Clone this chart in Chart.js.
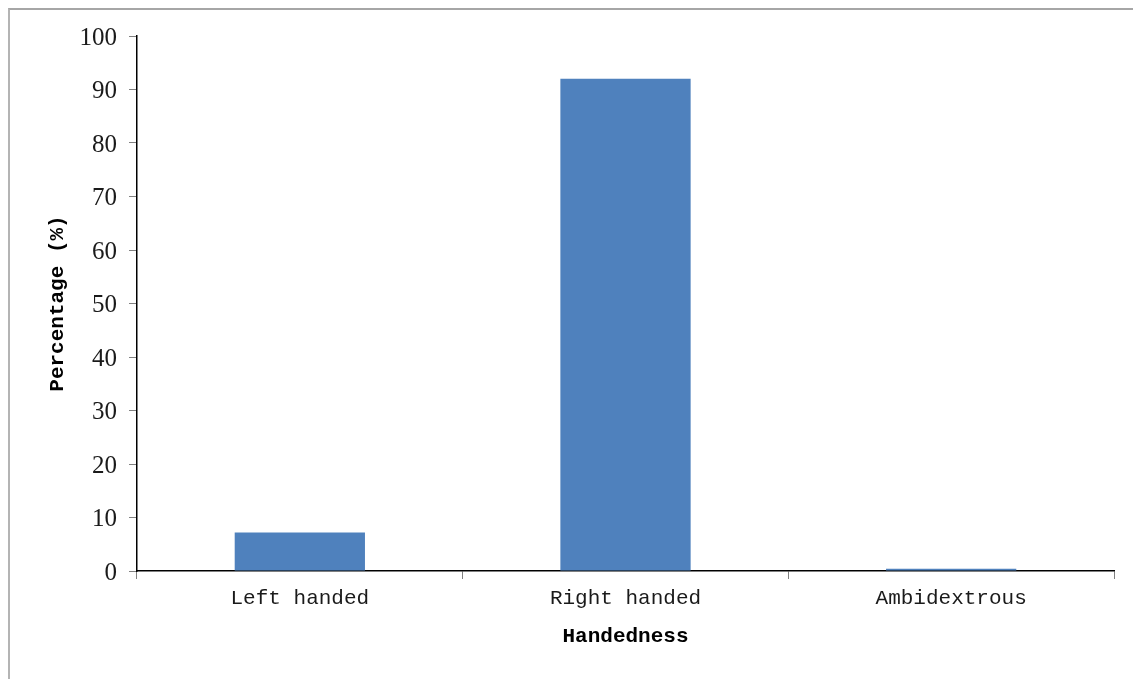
<!DOCTYPE html>
<html>
<head>
<meta charset="utf-8">
<script src="https://cdn.jsdelivr.net/npm/chart.js@4"></script>
<style>
  html, body { margin: 0; padding: 0; background: #fff; }
  #wrap { position: relative; width: 1133px; height: 679px; }
  #frame {
    position: absolute; left: 8px; top: 8px; right: 0; bottom: 0;
    border-top: 2px solid #a6a6a6; border-left: 2px solid #b4b4b4;
    pointer-events: none;
  }
  canvas { position: absolute; left: 0; top: 0; }
</style>
</head>
<body>
<div id="wrap">
  <canvas id="chart" width="1133" height="679"></canvas>
  <div id="frame"></div>
</div>
<script>
'use strict';

// ── Data ──────────────────────────────────────────────────────────────────────
const categories = ['Left handed', 'Right handed', 'Ambidextrous'];
const percentages = [7.2, 92.0, 0.4];
const yTicks = [0, 10, 20, 30, 40, 50, 60, 70, 80, 90, 100];

const BAR_COLOR = '#4f81bd';
const MONO = '"Liberation Mono", "DejaVu Sans Mono", monospace';
const SERIF = '"Liberation Serif", "DejaVu Serif", serif';

// ── Chart ─────────────────────────────────────────────────────────────────────
const ctx = document.getElementById('chart').getContext('2d');

new Chart(ctx, {
  type: 'bar',
  data: {
    labels: categories,
    datasets: [{
      label: 'Percentage',
      data: percentages,
      backgroundColor: BAR_COLOR,
      borderWidth: 0,
      barPercentage: 0.4,
      categoryPercentage: 1.0,
    }],
  },
  options: {
    responsive: false,
    animation: false,
    layout: { padding: { top: 36, right: 19, bottom: 0, left: 0 } },
    plugins: {
      legend: { display: false },
      tooltip: { enabled: false },
    },
    scales: {
      x: {
        afterFit: s => { s.height = 108; },
        grid: {
          drawOnChartArea: false,
          offset: true,
          color: '#808080',
          tickLength: 8,
        },
        border: { color: '#000', width: 1.5 },
        ticks: {
          color: '#1a1a1a',
          padding: 7,
          font: { family: MONO, size: 21 },
        },
        title: {
          display: true,
          text: 'Handedness',
          color: '#000',
          padding: { top: 30, bottom: 30 },
          font: { family: MONO, size: 21, weight: 'bold' },
        },
      },
      y: {
        min: 0,
        max: 100,
        afterFit: s => { s.width = 137; },
        afterBuildTicks: s => { s.ticks = yTicks.map(v => ({ value: v })); },
        grid: {
          drawOnChartArea: false,
          color: '#808080',
          tickLength: 8,
        },
        border: { color: '#000', width: 1.5 },
        ticks: {
          color: '#1a1a1a',
          padding: 12,
          labelOffset: 2,
          font: { family: SERIF, size: 25 },
        },
        title: {
          display: true,
          text: 'Percentage (%)',
          color: '#000',
          padding: { top: 45, bottom: 0 },
          font: { family: MONO, size: 21, weight: 'bold' },
        },
      },
    },
  },
});
</script>
</body>
</html>
